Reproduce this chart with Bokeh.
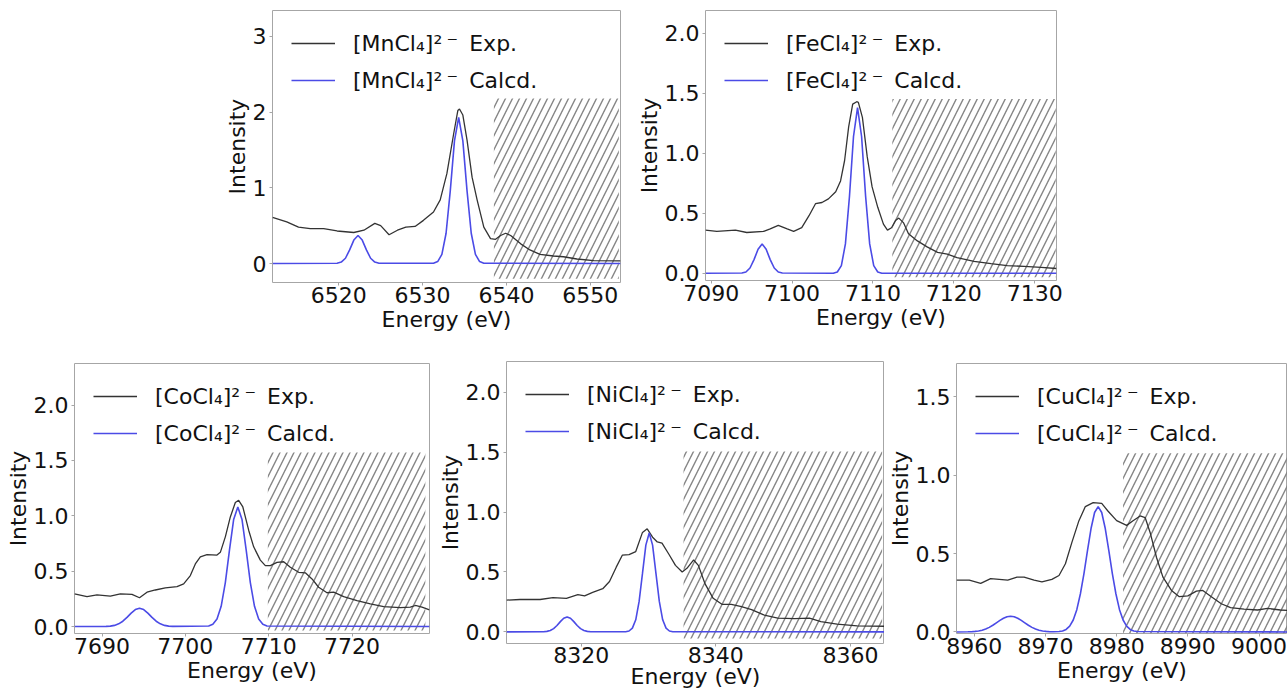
from bokeh.plotting import figure
from bokeh.models import FixedTicker, PrintfTickFormatter, Spacer
from bokeh.layouts import row, column
from bokeh.embed import file_html
from bokeh.resources import INLINE

# ---------------- data ----------------
mn_exp_x = [6512.1, 6513.8, 6515.2, 6516.6, 6518.2, 6519.8, 6521.8, 6523.0, 6524.3, 6525.0,
            6526.0, 6527.0, 6528.0, 6529.1, 6530.1, 6531.3, 6532.1, 6532.9, 6533.7, 6534.2,
            6534.4, 6534.8, 6535.3, 6535.9, 6536.5, 6537.3, 6538.1, 6538.7, 6539.3, 6539.9,
            6540.5, 6541.7, 6542.8, 6544.0, 6545.6, 6546.8, 6548.4, 6550.4, 6553.6]
mn_exp_y = [0.61, 0.55, 0.48, 0.46, 0.46, 0.43, 0.41, 0.44, 0.53, 0.50,
            0.38, 0.44, 0.48, 0.49, 0.57, 0.68, 0.84, 1.19, 1.71, 2.02,
            2.04, 1.96, 1.63, 1.14, 0.84, 0.48, 0.33, 0.32, 0.37, 0.40,
            0.37, 0.26, 0.18, 0.12, 0.10, 0.09, 0.06, 0.04, 0.035]
mn_calc_x = [6512.1, 6519.8, 6520.3, 6520.8, 6521.3, 6521.8, 6522.3, 6522.8, 6523.3, 6523.8,
             6524.3, 6524.8, 6531.3, 6531.8, 6532.3, 6532.8, 6533.3, 6533.8, 6534.3, 6534.8,
             6535.3, 6535.8, 6536.3, 6536.8, 6537.3, 6553.6]
mn_calc_y = [0.0, 0.004, 0.02, 0.07, 0.18, 0.31, 0.37, 0.31, 0.18, 0.07,
             0.02, 0.004, 0.004, 0.026, 0.12, 0.40, 0.96, 1.62, 1.93, 1.62,
             0.96, 0.40, 0.12, 0.026, 0.004, 0.0]

fe_exp_x = [7089.3, 7090.7, 7093.0, 7094.4, 7096.5, 7097.3, 7098.3, 7099.4, 7100.2, 7101.2,
            7102.1, 7102.9, 7103.7, 7104.5, 7105.4, 7106.0, 7106.5, 7107.0, 7107.5, 7108.0,
            7108.2, 7108.7, 7109.3, 7109.9, 7110.6, 7111.3, 7111.8, 7112.3, 7112.8, 7113.2,
            7113.8, 7114.4, 7115.5, 7116.7, 7118.0, 7119.2, 7120.4, 7122.5, 7124.6, 7126.6,
            7128.7, 7130.8, 7132.7]
fe_exp_y = [0.36, 0.35, 0.36, 0.34, 0.35, 0.37, 0.40, 0.37, 0.35, 0.38,
            0.48, 0.58, 0.59, 0.62, 0.68, 0.77, 0.94, 1.22, 1.41, 1.43,
            1.425, 1.30, 0.97, 0.72, 0.55, 0.41, 0.36, 0.38, 0.44, 0.46,
            0.42, 0.33, 0.27, 0.22, 0.175, 0.16, 0.13, 0.10, 0.08, 0.064,
            0.058, 0.05, 0.04]
fe_calc_x = [7089.3, 7093.8, 7094.3, 7094.8, 7095.3, 7095.8, 7096.3, 7096.8, 7097.3, 7097.8,
             7098.3, 7098.8, 7105.1, 7105.6, 7106.1, 7106.6, 7107.1, 7107.6, 7108.1, 7108.6,
             7109.1, 7109.6, 7110.1, 7110.6, 7111.1, 7132.7]
fe_calc_y = [0.0, 0.002, 0.011, 0.044, 0.114, 0.20, 0.245, 0.20, 0.114, 0.044,
             0.011, 0.002, 0.001, 0.011, 0.064, 0.245, 0.64, 1.14, 1.38, 1.14,
             0.64, 0.245, 0.064, 0.011, 0.001, 0.0]

co_exp_x = [7686.7, 7688.2, 7689.4, 7691.0, 7692.2, 7693.6, 7694.5, 7695.4, 7696.4, 7697.6,
            7699.0, 7699.8, 7700.6, 7701.2, 7701.8, 7702.6, 7703.8, 7704.2, 7704.8, 7705.4,
            7706.0, 7706.4, 7706.9, 7707.6, 7708.2, 7709.0, 7709.6, 7710.2, 7711.0, 7711.8,
            7712.6, 7713.6, 7714.4, 7715.2, 7716.0, 7717.0, 7717.8, 7719.0, 7720.6, 7722.2,
            7723.8, 7725.8, 7727.0, 7727.6, 7728.4, 7729.3]
co_exp_y = [0.295, 0.27, 0.285, 0.275, 0.295, 0.29, 0.26, 0.31, 0.33, 0.35,
            0.36, 0.385, 0.46, 0.565, 0.63, 0.65, 0.645, 0.67, 0.81, 0.99,
            1.12, 1.14, 1.08, 0.87, 0.72, 0.60, 0.55, 0.55, 0.58, 0.585,
            0.535, 0.49, 0.485, 0.43, 0.355, 0.305, 0.31, 0.27, 0.235, 0.205,
            0.18, 0.17, 0.175, 0.19, 0.175, 0.15]
co_calc_x = [7686.7, 7690.5, 7691.0, 7691.5, 7692.0, 7692.5, 7693.0, 7693.5, 7694.0, 7694.5,
             7695.0, 7695.5, 7696.0, 7696.5, 7697.0, 7697.5, 7698.0, 7698.5, 7702.8, 7703.3,
             7703.8, 7704.3, 7704.8, 7705.3, 7705.8, 7706.3, 7706.8, 7707.3, 7707.8, 7708.3,
             7708.8, 7709.3, 7709.8, 7729.3]
co_calc_y = [0.0, 0.0012, 0.0038, 0.0103, 0.024, 0.048, 0.0825, 0.121, 0.153, 0.165,
             0.153, 0.121, 0.0825, 0.048, 0.024, 0.0103, 0.0038, 0.0012, 0.0047, 0.0197,
             0.0675, 0.183, 0.397, 0.693, 0.967, 1.08, 0.967, 0.693, 0.397, 0.183,
             0.0675, 0.0197, 0.0047, 0.0]

ni_exp_x = [8308.9, 8310.9, 8313.9, 8315.8, 8317.8, 8319.5, 8320.5, 8321.7, 8323.2, 8324.2,
            8325.2, 8326.1, 8327.1, 8328.1, 8329.1, 8329.8, 8330.6, 8331.3, 8332.0, 8333.0,
            8334.0, 8335.0, 8335.7, 8336.7, 8337.4, 8338.4, 8339.6, 8340.9, 8342.3, 8343.8,
            8345.3, 8347.2, 8349.2, 8351.7, 8353.9, 8355.6, 8358.0, 8361.0, 8365.1]
ni_exp_y = [0.265, 0.27, 0.27, 0.285, 0.28, 0.31, 0.30, 0.33, 0.36, 0.42,
            0.54, 0.64, 0.645, 0.67, 0.83, 0.86, 0.79, 0.75, 0.74, 0.65,
            0.555, 0.50, 0.53, 0.60, 0.555, 0.40, 0.28, 0.23, 0.23, 0.21,
            0.185, 0.14, 0.115, 0.11, 0.115, 0.085, 0.065, 0.05, 0.047]
ni_calc_x = [8308.9, 8314.4, 8314.9, 8315.4, 8315.9, 8316.4, 8316.9, 8317.4, 8317.9, 8318.4,
             8318.9, 8319.4, 8319.9, 8320.4, 8320.9, 8321.4, 8326.6, 8327.1, 8327.6, 8328.1,
             8328.6, 8329.1, 8329.6, 8330.1, 8330.6, 8331.1, 8331.6, 8332.1, 8332.6, 8333.1,
             8333.6, 8365.1]
ni_calc_y = [0.0, 0.0012, 0.004, 0.0116, 0.027, 0.053, 0.0855, 0.114, 0.125, 0.114,
             0.0855, 0.053, 0.027, 0.0116, 0.004, 0.0012, 0.0013, 0.0074, 0.031, 0.101,
             0.254, 0.488, 0.724, 0.825, 0.724, 0.488, 0.254, 0.101, 0.031, 0.0074,
             0.0013, 0.0]

cu_exp_x = [8957.5, 8959.3, 8960.9, 8962.3, 8963.5, 8964.7, 8966.0, 8967.0, 8968.4, 8969.5,
            8970.9, 8971.9, 8972.8, 8973.7, 8974.7, 8975.6, 8976.7, 8977.9, 8978.8, 8980.0,
            8981.4, 8982.3, 8983.3, 8984.0, 8984.7, 8985.6, 8986.5, 8987.7, 8988.8, 8990.0,
            8991.2, 8992.1, 8993.3, 8994.7, 8996.0, 8997.9, 8999.8, 9001.2, 9003.0, 9004.0]
cu_exp_y = [0.33, 0.33, 0.31, 0.34, 0.335, 0.33, 0.35, 0.35, 0.33, 0.32,
            0.335, 0.36, 0.435, 0.57, 0.71, 0.80, 0.825, 0.82, 0.77, 0.71,
            0.68, 0.71, 0.74, 0.73, 0.635, 0.475, 0.35, 0.265, 0.225, 0.23,
            0.26, 0.265, 0.225, 0.18, 0.155, 0.145, 0.14, 0.15, 0.14, 0.137]
cu_calc_x = [8957.5, 8959.1, 8959.6, 8960.1, 8960.6, 8961.1, 8961.6, 8962.1, 8962.6, 8963.1,
             8963.6, 8964.1, 8964.6, 8965.1, 8965.6, 8966.1, 8966.6, 8967.1, 8967.6, 8968.1,
             8968.6, 8969.1, 8969.6, 8970.1, 8970.6, 8971.1, 8971.9, 8972.4, 8972.9, 8973.4,
             8973.9, 8974.4, 8974.9, 8975.4, 8975.9, 8976.4, 8976.9, 8977.4, 8977.9, 8978.4,
             8978.9, 8979.4, 8979.9, 8980.4, 8980.9, 8981.4, 8981.9, 8982.4, 8982.9, 9004.0]
cu_calc_y = [0.0, 0.0007, 0.0016, 0.0033, 0.0063, 0.0112, 0.0187, 0.029, 0.0425, 0.058,
             0.0735, 0.087, 0.097, 0.10, 0.097, 0.087, 0.0735, 0.058, 0.0425, 0.029,
             0.0187, 0.0112, 0.0063, 0.0033, 0.0016, 0.0007, 0.0024, 0.0064, 0.016, 0.037,
             0.076, 0.142, 0.242, 0.371, 0.519, 0.66, 0.762, 0.80, 0.762, 0.66,
             0.519, 0.371, 0.242, 0.142, 0.076, 0.037, 0.016, 0.0064, 0.0024, 0.0]

# hatched (excluded) regions: [left, right, bottom, top]
mn_hatch = [6538.5, 6553.4, -0.2, 2.18]
fe_hatch = [7112.4, 7132.6, -0.033, 1.453]
co_hatch = [7709.9, 7728.8, -0.036, 1.573]
ni_hatch = [8335.2, 8364.7, -0.056, 1.506]
cu_hatch = [8980.9, 9006.0, -0.01, 1.14]

# axis ranges and ticks
mn_xrange, mn_yrange = (6512.1, 6553.6), (-0.25, 3.34)
fe_xrange, fe_yrange = (7089.3, 7132.7), (-0.06, 2.19)
co_xrange, co_yrange = (7686.7, 7729.3), (-0.063, 2.376)
ni_xrange, ni_yrange = (8308.9, 8365.05), (-0.097, 2.256)
cu_xrange, cu_yrange = (8957.5, 9004.0), (-0.01, 1.713)

mn_xticks, mn_yticks = [6520, 6530, 6540, 6550], [0, 1, 2, 3]
fe_xticks, fe_yticks = [7090, 7100, 7110, 7120, 7130], [0.0, 0.5, 1.0, 1.5, 2.0]
co_xticks, co_yticks = [7690, 7700, 7710, 7720], [0.0, 0.5, 1.0, 1.5, 2.0]
ni_xticks, ni_yticks = [8320, 8340, 8360], [0.0, 0.5, 1.0, 1.5, 2.0]
cu_xticks, cu_yticks = [8960, 8970, 8980, 8990, 9000], [0.0, 0.5, 1.0, 1.5]

# ---------------- styling ----------------
FONT = "DejaVu Sans"
FS = "22px"
EXP_COLOR = "#333333"
CALC_COLOR = "#4b4be6"
FRAME_COLOR = "#a6a6a6"
HATCH_COLOR = "#858585"


def panel(metal, ex, ey, cx, cy, hatch, xr, yr, xt, yt, yfmt, L, W, R, T, H, B,
          x_tick_standoff=1, x_label_standoff=1):
    p = figure(width=L + W + R, height=T + H + B, x_range=xr, y_range=yr,
               output_backend="svg", toolbar_location=None,
               min_border_left=L, min_border_right=R, min_border_top=T, min_border_bottom=B,
               background_fill_color="white", border_fill_color="white")
    p.quad(left=[hatch[0]], right=[hatch[1]], bottom=[hatch[2]], top=[hatch[3]],
           fill_alpha=0, line_alpha=0, hatch_pattern="/", hatch_color=HATCH_COLOR,
           hatch_scale=14, hatch_weight=1.4)
    p.line(ex, ey, color=EXP_COLOR, line_width=1.3,
           legend_label=f"[{metal}Cl₄]²\u2009⁻\u2002Exp.")
    p.line(cx, cy, color=CALC_COLOR, line_width=1.6,
           legend_label=f"[{metal}Cl₄]²\u2009⁻\u2002Calcd.")

    p.xgrid.visible = False
    p.ygrid.visible = False
    p.outline_line_color = FRAME_COLOR
    p.outline_line_width = 1

    p.xaxis.ticker = FixedTicker(ticks=xt)
    p.yaxis.ticker = FixedTicker(ticks=yt)
    p.xaxis.formatter = PrintfTickFormatter(format="%d")
    p.yaxis.formatter = PrintfTickFormatter(format=yfmt)
    p.xaxis.axis_label = "Energy (eV)"
    p.yaxis.axis_label = "Intensity"
    for ax in (p.xaxis[0], p.yaxis[0]):
        ax.axis_line_color = None
        ax.major_tick_line_color = FRAME_COLOR
        ax.major_tick_out = 3
        ax.major_tick_in = 0
        ax.minor_tick_line_color = None
        ax.major_label_text_font = FONT
        ax.major_label_text_font_size = FS
        ax.major_label_text_color = "#111111"
        ax.major_label_text_line_height = 1.0
        ax.axis_label_text_font = FONT
        ax.axis_label_text_font_size = FS
        ax.axis_label_text_font_style = "normal"
        ax.axis_label_text_color = "#111111"
        ax.axis_label_text_line_height = 1.0
    p.xaxis[0].major_label_standoff = x_tick_standoff
    p.xaxis[0].axis_label_standoff = x_label_standoff
    p.yaxis[0].major_label_standoff = 3
    p.yaxis[0].axis_label_standoff = 0

    lg = p.legend[0]
    lg.location = "top_left"
    lg.border_line_color = None
    lg.background_fill_alpha = 0
    lg.label_text_font = FONT
    lg.label_text_font_size = FS
    lg.label_text_color = "#111111"
    lg.glyph_width = 44
    lg.glyph_height = 28
    lg.label_height = 28
    lg.label_standoff = 18
    lg.spacing = 9
    lg.margin = 19
    lg.padding = 0
    return p


mn = panel("Mn", mn_exp_x, mn_exp_y, mn_calc_x, mn_calc_y, mn_hatch, mn_xrange, mn_yrange,
           mn_xticks, mn_yticks, "%d", 72, 348, 10, 10, 272, 63)
fe = panel("Fe", fe_exp_x, fe_exp_y, fe_calc_x, fe_calc_y, fe_hatch, fe_xrange, fe_yrange,
           fe_xticks, fe_yticks, "%.1f", 75, 351, 20, 10, 270, 65)
co = panel("Co", co_exp_x, co_exp_y, co_calc_x, co_calc_y, co_hatch, co_xrange, co_yrange,
           co_xticks, co_yticks, "%.1f", 74, 355, 5, 18, 270, 62)
ni = panel("Ni", ni_exp_x, ni_exp_y, ni_calc_x, ni_calc_y, ni_hatch, ni_xrange, ni_yrange,
           ni_xticks, ni_yticks, "%.1f", 69, 381, 0, 16, 282, 52,
           x_tick_standoff=0, x_label_standoff=-2)
cu = panel("Cu", cu_exp_x, cu_exp_y, cu_calc_x, cu_calc_y, cu_hatch, cu_xrange, cu_yrange,
           cu_xticks, cu_yticks, "%.1f", 70, 333, 0, 18, 270, 62)

# each figure is wrapped on its own so that the layout does not align the plot frames
layout = column(
    row(Spacer(width=200, height=345), column(mn), column(fe), spacing=0),
    row(column(co), column(ni), column(cu), spacing=0),
    spacing=0)

open("out.html", "w").write(file_html(layout, INLINE, title="XAS pre-edge spectra"))
